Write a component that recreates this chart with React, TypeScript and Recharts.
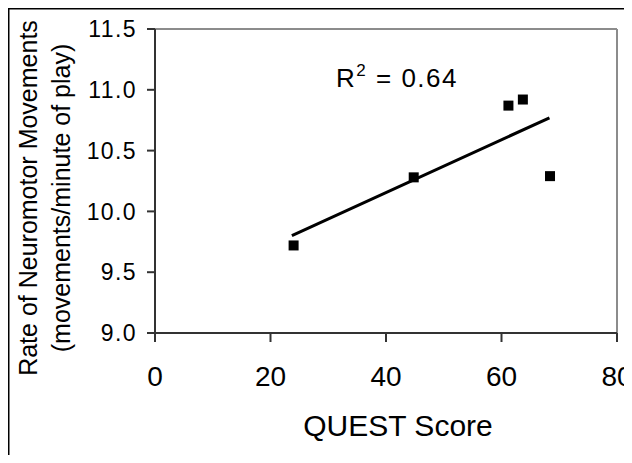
import React from "react";
import {
  ScatterChart, Scatter, XAxis, YAxis, ReferenceLine, Label,
} from "recharts";

const QUEST_SCORES = [24.0, 44.8, 61.2, 63.7, 68.4];
const MOVE_RATES = [9.72, 10.28, 10.87, 10.92, 10.29];
const TREND_X = [23.7, 68.3];
const TREND_Y = [9.8, 10.77];
const X_TICKS = [0, 20, 40, 60, 80];
const Y_TICKS = [9, 9.5, 10, 10.5, 11, 11.5];
const R2_VALUE = "0.64";

const points = QUEST_SCORES.map((x, i) => ({ x, y: MOVE_RATES[i] }));
const trend = TREND_X.map((x, i) => ({ x, y: TREND_Y[i] }));

const FONT = '"Liberation Sans", Arial, sans-serif';
const AXIS = "#333";
const FRAME = "#8c8c8c";

const SquareDot = (p: any) => (
  <rect x={p.cx - 5} y={p.cy - 5} width={10} height={10} fill="#000" />
);

const YTitle = ({ viewBox }: any) => {
  const cy = viewBox.y + viewBox.height / 2 + 17;
  return (
    <g fontFamily={FONT} fontSize={25} fill="#000">
      <text x={29} y={cy} transform={`rotate(-90 29 ${cy})`} textAnchor="middle">
        Rate of Neuromotor Movements
      </text>
      <text x={62} y={cy} transform={`rotate(-90 62 ${cy})`} textAnchor="middle">
        (movements/minute of play)
      </text>
    </g>
  );
};

const XTitle = ({ viewBox }: any) => (
  <text
    x={viewBox.x + viewBox.width / 2 + 12}
    y={viewBox.y + 103}
    textAnchor="middle"
    fontFamily={FONT}
    fontSize={30}
    fill="#000"
  >
    QUEST Score
  </text>
);

export default function App() {
  return (
    <div style={{ width: 624, height: 447, fontFamily: FONT, background: "#fff" }}>
      <ScatterChart width={624} height={447} margin={{ top: 21, right: 15, bottom: 0, left: 0 }}>
        {/* outer figure frame, only top/left edges fall inside the page */}
        <line x1={0} y1={0.75} x2={624} y2={0.75} stroke="#000" strokeWidth={1.5} />
        <line x1={0.75} y1={0} x2={0.75} y2={447} stroke="#000" strokeWidth={1.5} />
        <ReferenceLine y={11.5} stroke={FRAME} strokeWidth={2} />
        <ReferenceLine x={80} stroke={FRAME} strokeWidth={2} />
        <XAxis
          type="number" dataKey="x" domain={[0, 80]} ticks={X_TICKS}
          height={122} stroke={AXIS} strokeWidth={2} tickSize={9} tickMargin={24}
          tick={{ fill: "#000", fontSize: 28, fontFamily: FONT }}
        >
          <Label content={<XTitle />} />
        </XAxis>
        <YAxis
          type="number" dataKey="y" domain={[9, 11.5]} ticks={Y_TICKS}
          width={147} stroke={AXIS} strokeWidth={2} tickSize={8} tickMargin={10}
          tickFormatter={(v: number) => v.toFixed(1)}
          tick={{ fill: "#000", fontSize: 23, fontFamily: FONT, letterSpacing: 1.4 }}
        >
          <Label content={<YTitle />} />
        </YAxis>
        <Scatter
          data={trend} line={{ stroke: "#000", strokeWidth: 3 }}
          shape={() => <g />} isAnimationActive={false}
        />
        <Scatter data={points} shape={SquareDot} isAnimationActive={false} />
        <text x={328} y={79} fontFamily={FONT} fontSize={26} letterSpacing={1.5} fill="#000">
          R<tspan dy={-11} fontSize={17}>2</tspan>
          <tspan dy={11}> = {R2_VALUE}</tspan>
        </text>
      </ScatterChart>
    </div>
  );
}
